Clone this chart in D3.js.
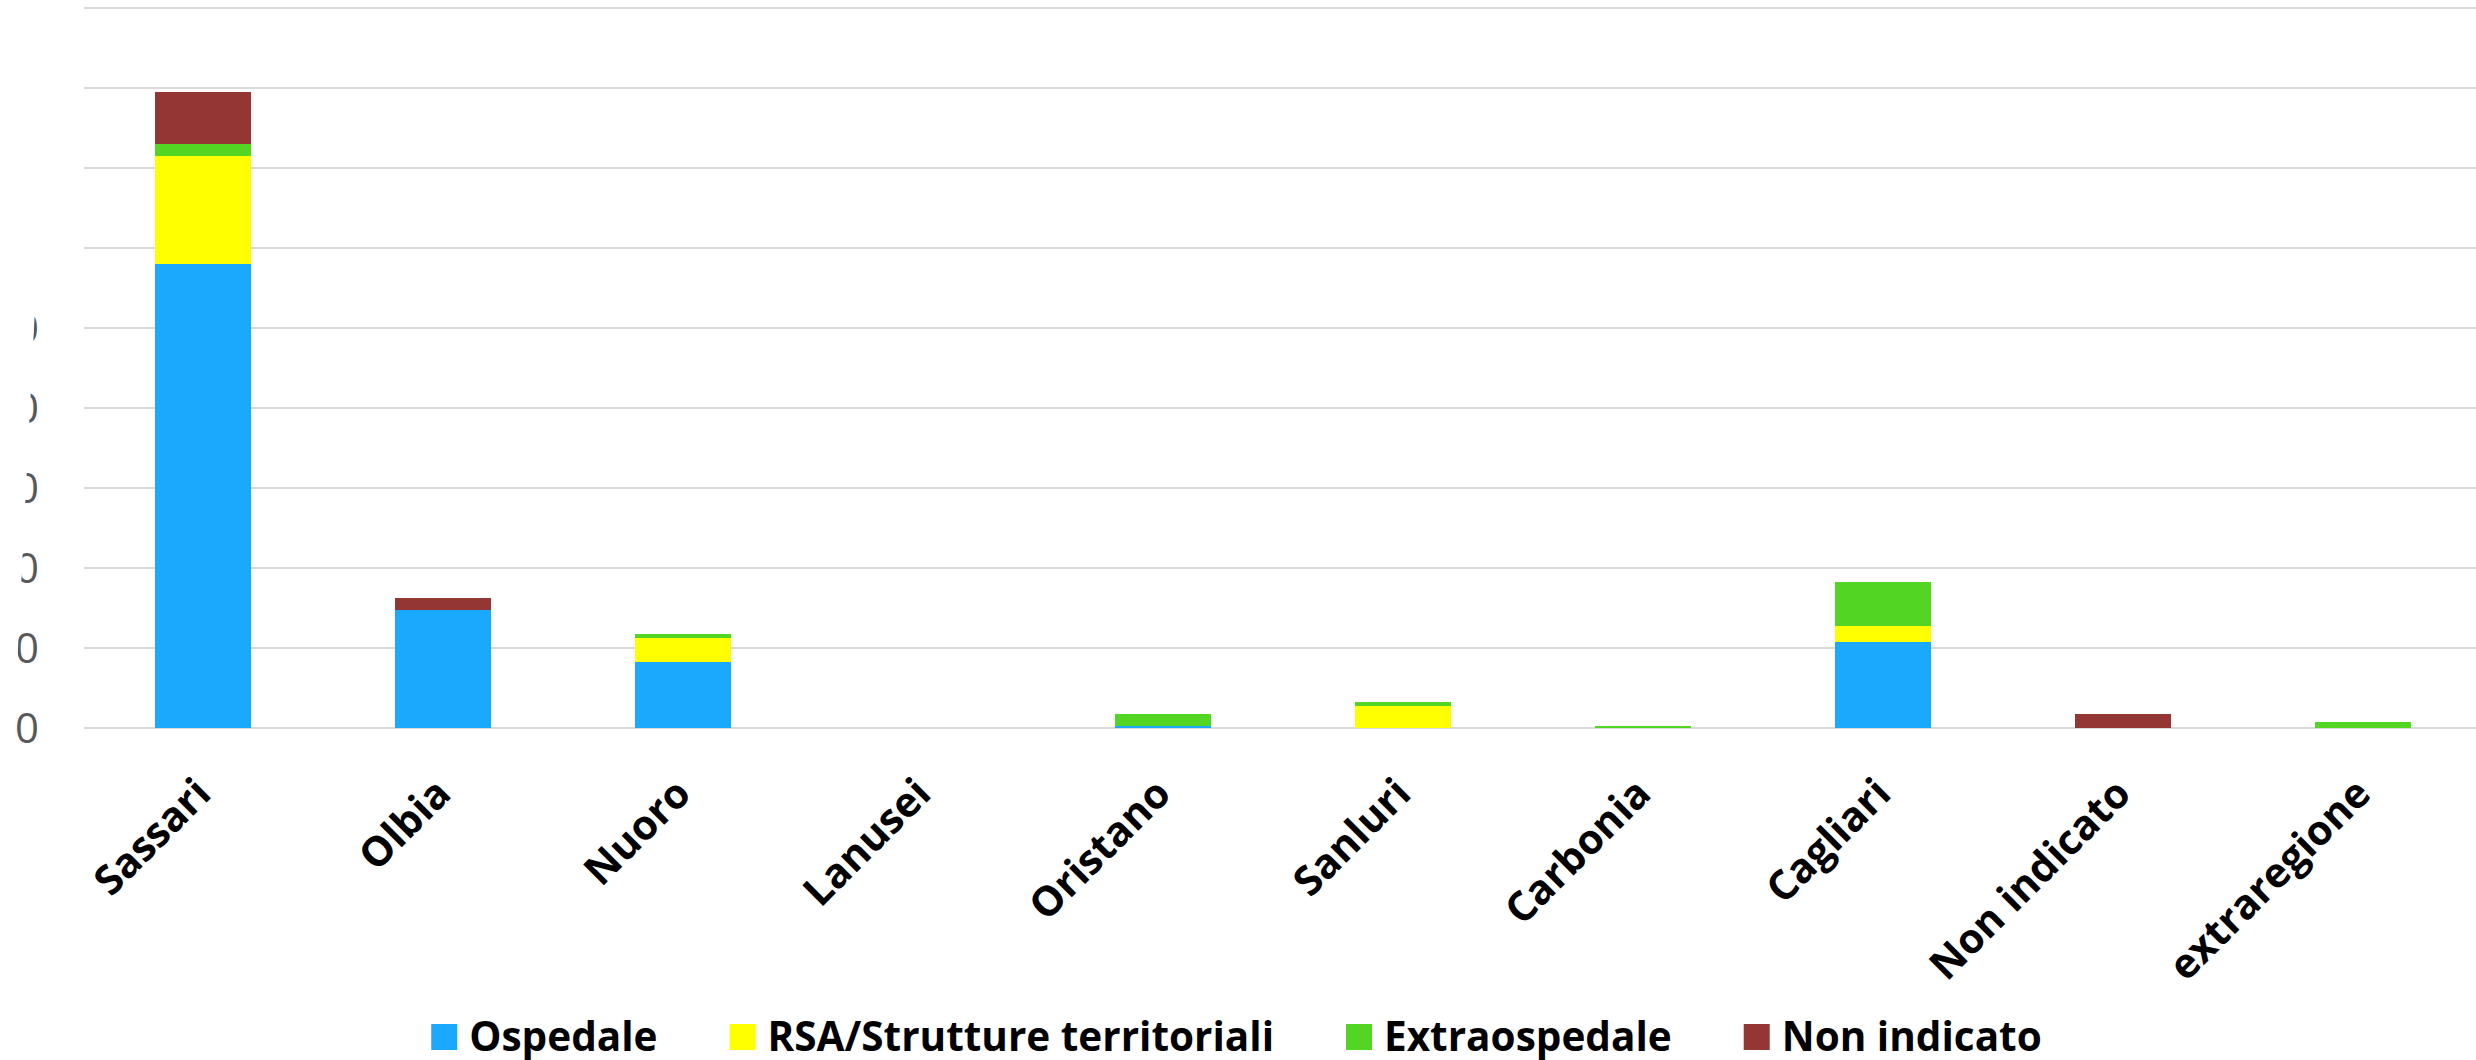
<!DOCTYPE html>
<html>
<head>
<meta charset="utf-8">
<script src="https://cdn.jsdelivr.net/npm/d3@7"></script>
<style>
  html, body { margin: 0; padding: 0; background: #ffffff; }
  svg { display: block; }
</style>
</head>
<body>
<script>
const categories = ["Sassari", "Olbia", "Nuoro", "Lanusei", "Oristano", "Sanluri", "Carbonia", "Cagliari", "Non indicato", "extraregione"];
const ospedale    = [232, 59, 33, 0, 1, 0, 0, 43, 0, 0];
const rsa         = [54, 0, 12, 0, 0, 11, 0, 8, 0, 0];
const extraosp    = [6, 0, 2, 0, 6, 2, 1, 22, 0, 3];
const nonIndicato = [26, 6, 0, 0, 0, 0, 0, 0, 7, 0];
const seriesNames = ["Ospedale", "RSA/Strutture territoriali", "Extraospedale", "Non indicato"];
const seriesColors = ["#1ba9fe", "#ffff00", "#53d523", "#943634"];
const yTicks = [0, 40, 80, 120, 160, 200, 240, 280, 320, 360];

const W = 2476, H = 1060;
const svg = d3.select("body").append("svg").attr("width", W).attr("height", H);

const x = d3.scaleBand().domain(categories).range([83, 2483]).paddingInner(0.6).paddingOuter(0.3);
const y = d3.scaleLinear().domain([0, 360]).range([728, 8]);

// gridlines
svg.append("g").selectAll("line").data(yTicks).join("line")
  .attr("x1", 84).attr("x2", W)
  .attr("y1", d => y(d)).attr("y2", d => y(d))
  .attr("stroke", "#d9d9d9").attr("stroke-width", 2);

// y tick labels (cut off on the left edge, as in the reference)
const defs = svg.append("defs");
const clipLine = yy => 14 + (728 - yy) * 0.05;
defs.append("clipPath").attr("id", "yclip").append("polygon")
  .attr("points", [[clipLine(780), 780], [clipLine(240), 240], [80, 240], [80, 780]].map(p => p.join(",")).join(" "));

svg.append("g").attr("clip-path", "url(#yclip)")
  .selectAll("text").data(yTicks).join("text")
  .attr("x", 39).attr("y", d => y(d)).attr("dy", "0.36em")
  .attr("text-anchor", "end")
  .attr("font-family", "Open Sans")
  .attr("font-size", 42)
  .attr("fill", "#595959")
  .text(d => d);

// stacked data
const rows = categories.map((c, i) => ({cat: c, s0: ospedale[i], s1: rsa[i], s2: extraosp[i], s3: nonIndicato[i]}));
const stack = d3.stack().keys(["s0", "s1", "s2", "s3"])(rows);

svg.append("g").selectAll("g").data(stack).join("g")
  .attr("fill", (d, i) => seriesColors[i])
  .selectAll("rect").data(d => d.filter(v => v[1] - v[0] > 0)).join("rect")
  .attr("x", d => x(d.data.cat))
  .attr("width", x.bandwidth())
  .attr("y", d => y(d[1]))
  .attr("height", d => y(d[0]) - y(d[1]));

// x labels
svg.append("g").selectAll("text").data(categories).join("text")
  .attr("transform", d => `translate(${x(d) + x.bandwidth() / 2 + 10},796) rotate(-45)`)
  .attr("text-anchor", "end")
  .attr("font-family", "Open Sans")
  .attr("font-weight", "bold")
  .attr("font-size", 41)
  .attr("fill", "#000000")
  .text(d => d);

// legend
const legend = svg.append("g");
let lx = 0;
seriesNames.forEach((name, i) => {
  const g = legend.append("g");
  g.append("rect").attr("x", 0).attr("y", 1024).attr("width", 26).attr("height", 26).attr("fill", seriesColors[i]);
  const t = g.append("text").attr("x", 38).attr("y", 1051)
    .attr("font-family", "Open Sans").attr("font-weight", "bold").attr("font-size", 40.5)
    .attr("fill", "#000000").text(name);
  const w = 38 + t.node().getComputedTextLength();
  g.attr("transform", `translate(${lx},0)`);
  lx += w + 72;
});
const totalW = lx - 72;
legend.attr("transform", `translate(${1236.5 - totalW / 2},0)`);
</script>
</body>
</html>
